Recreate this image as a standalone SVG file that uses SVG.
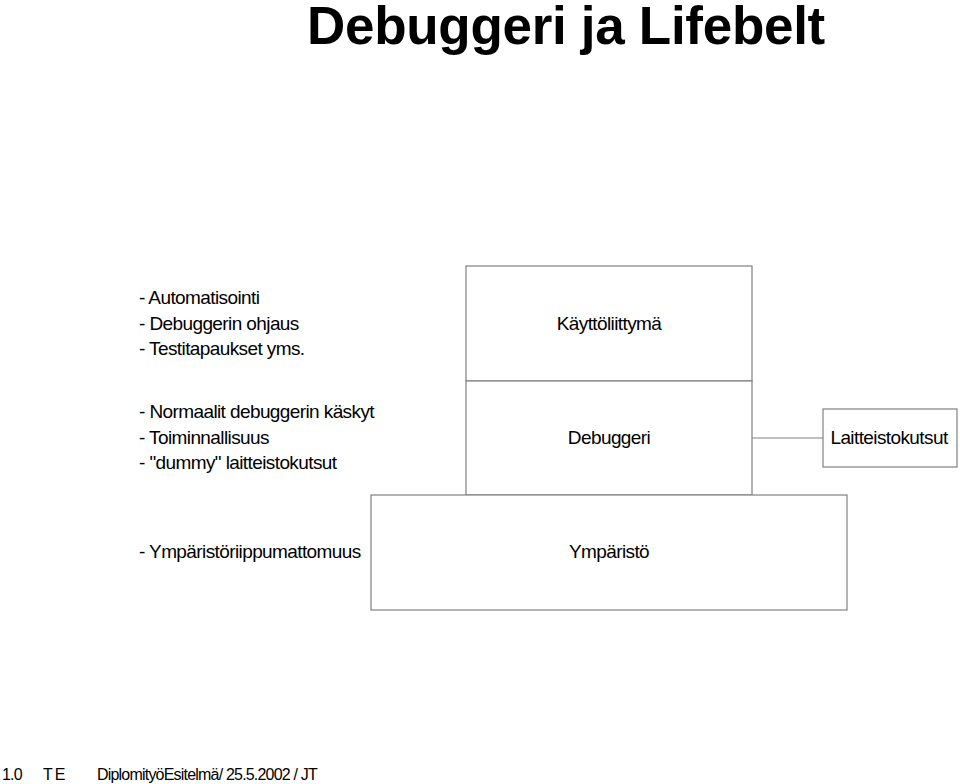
<svg xmlns="http://www.w3.org/2000/svg" width="960" height="784" viewBox="0 0 960 784">
<style>
text{font-family:"Liberation Sans",Arial,sans-serif;fill:#000}
.t{font-size:19px;letter-spacing:-0.6px}
.c{text-anchor:middle}
.box{fill:#fff;stroke:#808080;stroke-width:1.2}
line{stroke:#808080;stroke-width:1.2}
</style>
<rect width="960" height="784" fill="#fff"/>
<text x="566" y="44" class="c" font-size="53" font-weight="bold" letter-spacing="-0.3">Debuggeri ja Lifebelt</text>
<g id="notes">
<text x="139" y="304" class="t">- Automatisointi</text>
<text x="139" y="330" class="t">- Debuggerin ohjaus</text>
<text x="139" y="355" class="t">- Testitapaukset yms.</text>
<text x="139" y="418" class="t">- Normaalit debuggerin käskyt</text>
<text x="139" y="444" class="t">- Toiminnallisuus</text>
<text x="139" y="469" class="t">- "dummy" laitteistokutsut</text>
<text x="139" y="558" class="t">- Ympäristöriippumattomuus</text>
</g>
<g id="connectors"><line x1="752" y1="438" x2="823" y2="438"/></g>
<g id="kayttoliittyma"><rect class="box" x="466" y="266" width="286" height="115"/><text x="609" y="330" class="t c">Käyttöliittymä</text></g>
<g id="debuggeri"><rect class="box" x="466" y="381" width="286" height="114"/><text x="609" y="444" class="t c">Debuggeri</text></g>
<g id="ymparisto"><rect class="box" x="371" y="495" width="476" height="115"/><text x="609" y="558" class="t c">Ympäristö</text></g>
<g id="laitteisto"><rect class="box" x="823" y="409" width="134" height="58"/><text x="889" y="444" class="t c">Laitteistokutsut</text></g>
<g id="footer" font-size="16" letter-spacing="-0.8">
<text x="2" y="780">1.0</text>
<text x="43" y="780" letter-spacing="2">TE</text>
<text x="97" y="780">DiplomityöEsitelmä/ 25.5.2002 / JT</text>
</g>
</svg>
